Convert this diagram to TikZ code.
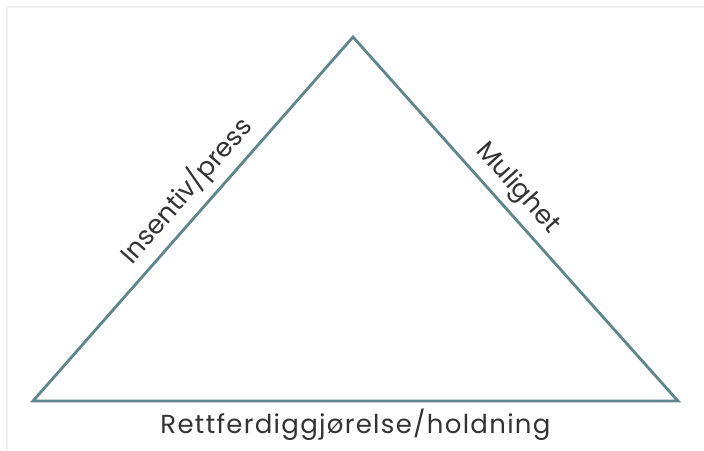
\documentclass[tikz,border=0pt]{standalone}
\usepackage{fontspec}
\setmainfont{Poppins}
\definecolor{edge}{HTML}{5E878D}
\definecolor{txt}{HTML}{333333}
\definecolor{frame}{HTML}{F0F0F0}
\begin{document}
\begin{tikzpicture}[x=1pt,y=-1pt,
  side/.style={draw=edge,line width=2.8pt,line join=miter},
  lab/.style={text=txt,font=\fontsize{26}{30}\selectfont,inner sep=0pt}]
\useasboundingbox (0,0) rectangle (704,450);
\fill[white] (0,0) rectangle (704,450);
\draw[frame,line width=1.2pt] (7,450) -- (7,7) -- (704,7);
\coordinate (A) at (353,37);
\coordinate (B) at (33,401);
\coordinate (C) at (678,401);
\draw[side] (A) -- (B) -- (C) -- cycle;
\path (B) -- (A) node[lab,pos=0.535,sloped,above=8pt] (l1) {Insentiv/press};
\path (A) -- (C) node[lab,pos=0.456,sloped,above=8pt] (l2) {Mulighet};
\node[lab,anchor=base] (l3) at (355.5,433) {\addfontfeatures{LetterSpace=5}Rettferdiggjørelse/holdning};
\end{tikzpicture}
\end{document}
